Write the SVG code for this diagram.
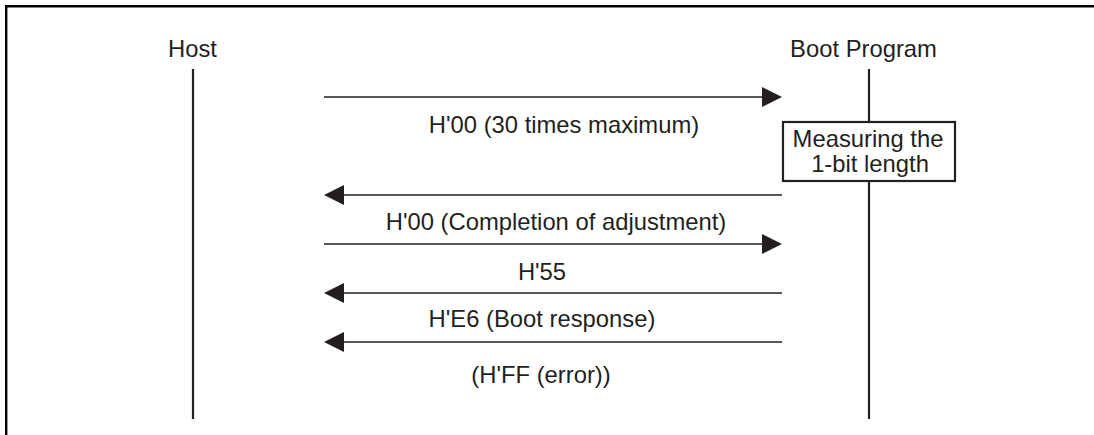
<svg xmlns="http://www.w3.org/2000/svg" width="1094" height="435" viewBox="0 0 1094 435">
<style>
text{font-family:"Liberation Sans",Arial,sans-serif;font-size:23.8px;fill:#231f20;text-anchor:middle}
.life{stroke:#231f20;stroke-width:2.2;fill:none}
.msg{stroke:#231f20;stroke-width:1.5;fill:none}
.head{fill:#231f20}
</style>
<rect width="1094" height="435" fill="#fff"/>
<path d="M6.2,435 V6.2 H1094" stroke="#000" stroke-width="2.4" fill="none"/>
<g id="host">
<text x="192.5" y="57">Host</text>
<line class="life" x1="193" y1="69" x2="193" y2="419"/>
</g>
<g id="boot">
<text x="863.5" y="57">Boot Program</text>
<line class="life" x1="869" y1="69" x2="869" y2="122"/>
<line class="life" x1="869" y1="181" x2="869" y2="419"/>
</g>
<g id="measure">
<rect x="783" y="122" width="172" height="59" fill="#fff" stroke="#231f20" stroke-width="2.2"/>
<text x="868" y="146.5">Measuring the</text>
<text x="870" y="172">1-bit length</text>
</g>
<g id="connectors">
<line class="msg" x1="324" y1="97" x2="764" y2="97"/>
<polygon class="head" points="782,97 762,87 762,107"/>
<line class="msg" x1="342" y1="195" x2="782" y2="195"/>
<polygon class="head" points="324,195 344,185 344,205"/>
<line class="msg" x1="324" y1="244" x2="764" y2="244"/>
<polygon class="head" points="782,244 762,234 762,254"/>
<line class="msg" x1="342" y1="293" x2="782" y2="293"/>
<polygon class="head" points="324,293 344,283 344,303"/>
<line class="msg" x1="342" y1="342" x2="782" y2="342"/>
<polygon class="head" points="324,342 344,332 344,352"/>
</g>
<g id="labels">
<text x="564" y="133">H'00 (30 times maximum)</text>
<text x="556" y="230">H'00 (Completion of adjustment)</text>
<text x="542" y="280">H'55</text>
<text x="542" y="327">H'E6 (Boot response)</text>
<text x="541" y="383">(H'FF (error))</text>
</g>
</svg>
